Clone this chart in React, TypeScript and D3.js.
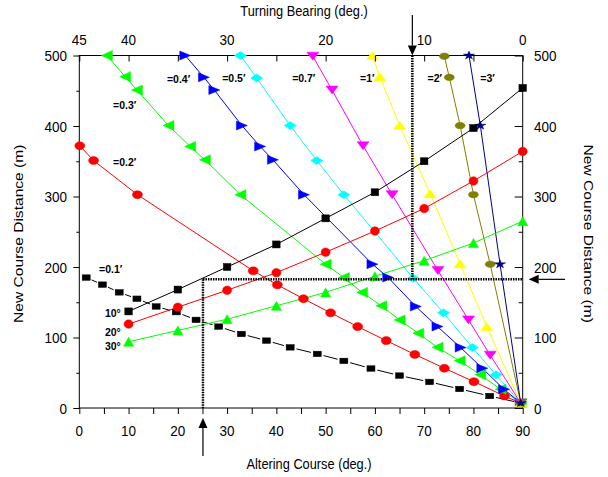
import React, { useEffect, useRef } from 'react';
import * as d3 from 'd3';

// Altering course (deg.) for the turning-bearing lines
const courseX = [10, 20, 30, 40, 50, 60, 70, 80, 90];
const bearing10 = [137, 168, 200, 232, 269, 306, 350, 397, 454];
const bearing20 = [119, 143, 167, 192, 221, 251, 283, 322, 364];
const bearing30 = [94, 110, 126, 145, 164, 187, 209, 234, 265];

// Constant-advance lines (x = altering course, y = new course distance)
const r01X = [1.4, 4.7, 8.1, 11.7, 15.6, 19.7, 23.7, 28.3, 32.9, 38, 42.8, 48.3, 53.7, 59.2, 65, 71.1, 77.2, 83.3, 89.6];
const r01Y = [185, 175, 164, 155, 144, 136, 125, 115.5, 105, 95.6, 86, 76.7, 66.8, 56, 46, 37, 27, 17, 7];
const r02X = [0.1, 2.9, 11.8, 35.3, 40.2, 45.5, 51, 56.5, 62.3, 68.1, 74.1, 80.1, 86.3, 89.6];
const r02Y = [372, 351, 302.6, 194.6, 174.7, 155, 135, 115.5, 95.6, 76, 56.4, 37.4, 17, 7];
const r03X = [5.6, 9.3, 11.7, 18.1, 22.5, 25.5, 32.7, 50, 53.7, 57.4, 61.3, 65, 68.8, 72.7, 77.2, 81.4, 85.5, 89.6];
const r03Y = [500, 470, 451, 400.6, 371, 352, 302.6, 204, 185, 164, 145, 125, 106, 86, 67, 47, 26.5, 7];
const r04X = [21.5, 25.3, 27.4, 33, 36.7, 39.3, 45.6, 59.5, 62.7, 68.3, 72.7, 77.4, 81.8, 86.2, 89.6];
const r04Y = [500, 469, 451, 400.6, 371, 352, 302.6, 204, 185, 144, 115.5, 85.7, 56.4, 26.5, 7];
const r05X = [32.7, 36, 42.8, 48.2, 53.7, 67.8, 73.9, 79.8, 84.6, 89.6];
const r05Y = [500, 468, 400.6, 351, 302.6, 184, 135, 85.7, 47, 7];
const r07X = [47.4, 51.3, 57.6, 63.5, 72.8, 79, 83.4, 89.6];
const r07Y = [499, 451, 372, 302.6, 195, 125, 75, 7];
const r1X = [59.5, 61, 65, 71.2, 77.3, 82.7, 89.6];
const r1Y = [500, 470, 401, 304, 204.5, 115.5, 7];
const r2X = [74.1, 75.1, 77.3, 80, 83.4, 89.6];
const r2Y = [499, 469, 400.6, 302.6, 204, 7];
const r3X = [79.1, 81.4, 85.4, 89.6];
const r3Y = [500, 400.6, 204, 7];

// Worked example read-off
const exampleCourse = 25.1;
const exampleBearing = 11.2;
const exampleDistance = 182.5;

const bottomTicks = [0, 10, 20, 30, 40, 50, 60, 70, 80, 90];
const topTicks = [45, 40, 30, 20, 10, 0];
const yTicks = [0, 100, 200, 300, 400, 500];

const FONT = 'Liberation Sans, Arial, sans-serif';
const SY = 1.15; // the original export is a little taller than wide

export default function App() {
  const svgRef = useRef(null);

  useEffect(() => {
    const width = 608;
    const height = 477;
    const svg = d3.select(svgRef.current).attr('width', width).attr('height', height);
    svg.selectAll('*').remove();

    const x = d3.scaleLinear().domain([0, 90]).range([79.3, 522.7]);
    const xTop = d3.scaleLinear().domain([45, 0]).range([79.3, 522.7]);
    const y = d3.scaleLinear().domain([0, 500]).range([408, 55.5]);

    const series = [
      { xs: r01X, ys: r01Y, color: '#000000', shape: 'square', w: 8, h: 5.5, gap: true, label: '=0.1′', at: [4.0, 196] },
      { xs: r02X, ys: r02Y, color: '#FF0000', shape: 'circle', w: 10, h: 8, label: '=0.2′', at: [6.85, 348] },
      { xs: r03X, ys: r03Y, color: '#00FF00', shape: 'triLeft', w: 11, h: 10, label: '=0.3′', at: [6.85, 429] },
      { xs: r04X, ys: r04Y, color: '#0000FF', shape: 'triRight', w: 11, h: 9, label: '=0.4′', at: [17.8, 466] },
      { xs: r05X, ys: r05Y, color: '#00FFFF', shape: 'diamond', w: 12, h: 8, label: '=0.5′', at: [29.0, 468] },
      { xs: r07X, ys: r07Y, color: '#FF00FF', shape: 'triDown', w: 12, h: 8, label: '=0.7′', at: [43.2, 468] },
      { xs: r1X, ys: r1Y, color: '#FFFF00', shape: 'triUp', w: 12, h: 8, label: '=1′', at: [57.0, 468] },
      { xs: r2X, ys: r2Y, color: '#808000', shape: 'circle', w: 10, h: 6.5, label: '=2′', at: [70.7, 468] },
      { xs: r3X, ys: r3Y, color: '#000080', shape: 'star', w: 9, h: 7, label: '=3′', at: [81.4, 468] },
      { xs: courseX, ys: bearing10, color: '#000000', shape: 'square', w: 7.5, h: 7, label: '10°', at: [5.2, 135] },
      { xs: courseX, ys: bearing20, color: '#FF0000', shape: 'circle', w: 9, h: 8.5, label: '20°', at: [5.2, 108] },
      { xs: courseX, ys: bearing30, color: '#00FF00', shape: 'triUp', w: 10, h: 9, label: '30°', at: [5.2, 88] },
    ];

    // Frame
    svg.append('rect').attr('x', x(0)).attr('y', y(500)).attr('width', x(90) - x(0)).attr('height', y(0) - y(500))
      .attr('fill', 'none').attr('stroke', '#000').attr('stroke-width', 1);

    // Lines
    const line = d3.line();
    series.forEach(s => {
      const pts = s.xs.map((v, i) => [x(v), y(s.ys[i])]);
      if (s.gap) {
        // segments stop short of the symbols
        for (let i = 0; i < pts.length - 1; i++) {
          const [x1, y1] = pts[i];
          const [x2, y2] = pts[i + 1];
          const len = Math.hypot(x2 - x1, y2 - y1);
          const cut = Math.min(6.5, len / 3);
          const ux = (x2 - x1) / len, uy = (y2 - y1) / len;
          svg.append('line').attr('x1', x1 + ux * cut).attr('y1', y1 + uy * cut)
            .attr('x2', x2 - ux * cut).attr('y2', y2 - uy * cut)
            .attr('stroke', s.color).attr('stroke-width', 1);
        }
      } else {
        svg.append('path').attr('d', line(pts)).attr('fill', 'none').attr('stroke', s.color).attr('stroke-width', 1);
      }
    });

    // Markers
    const drawMarker = (s, cx, cy) => {
      const hw = s.w / 2, hh = s.h / 2;
      let el;
      if (s.shape === 'square') {
        el = svg.append('rect').attr('x', cx - hw).attr('y', cy - hh).attr('width', s.w).attr('height', s.h);
      } else if (s.shape === 'circle') {
        el = svg.append('ellipse').attr('cx', cx).attr('cy', cy).attr('rx', hw).attr('ry', hh);
      } else if (s.shape === 'star') {
        el = svg.append('path').attr('d', d3.symbol(d3.symbolStar, 40)())
          .attr('transform', `translate(${cx},${cy}) scale(1,0.75)`);
      } else {
        let p;
        if (s.shape === 'triUp') p = [[0, -hh], [hw, hh], [-hw, hh]];
        if (s.shape === 'triDown') p = [[-hw, -hh], [hw, -hh], [0, hh]];
        if (s.shape === 'triLeft') p = [[-hw, 0], [hw, -hh], [hw, hh]];
        if (s.shape === 'triRight') p = [[hw, 0], [-hw, -hh], [-hw, hh]];
        if (s.shape === 'diamond') p = [[0, -hh], [hw, 0], [0, hh], [-hw, 0]];
        el = svg.append('polygon').attr('points', p.map(d => `${cx + d[0]},${cy + d[1]}`).join(' '));
      }
      el.attr('fill', s.color).attr('stroke', s.color).attr('stroke-width', 0.5);
    };
    series.forEach(s => s.xs.forEach((v, i) => drawMarker(s, x(v), y(s.ys[i]))));

    // Series labels
    series.forEach(s => {
      svg.append('text').attr('x', x(s.at[0])).attr('y', y(s.at[1])).attr('dy', '0.35em')
        .attr('font-family', FONT).attr('font-size', 10.5).attr('font-weight', 'bold').attr('fill', '#000')
        .text(s.label);
    });

    // Axes (ticks only, labels drawn below)
    const styleAxis = g => {
      g.select('.domain').remove();
      g.selectAll('line').attr('stroke', '#000');
    };
    const minorY = d3.range(0, 501, 50).filter(v => !yTicks.includes(v));

    svg.append('g').attr('transform', `translate(0,${y(0)})`)
      .call(d3.axisBottom(x).tickValues(d3.range(0, 91, 5)).tickSize(6).tickFormat(() => '')).call(styleAxis);
    svg.append('g').attr('transform', `translate(0,${y(500)})`)
      .call(d3.axisTop(xTop).tickValues(d3.range(45, -1, -5)).tickSizeInner(-6).tickSizeOuter(0).tickFormat(() => ''))
      .call(styleAxis);
    svg.append('g').attr('transform', `translate(${x(0)},0)`)
      .call(d3.axisLeft(y).tickValues(yTicks).tickSize(6).tickFormat(() => '')).call(styleAxis);
    svg.append('g').attr('transform', `translate(${x(0)},0)`)
      .call(d3.axisLeft(y).tickValues(minorY).tickSize(3).tickFormat(() => '')).call(styleAxis);
    svg.append('g').attr('transform', `translate(${x(90)},0)`)
      .call(d3.axisRight(y).tickValues(yTicks).tickSizeInner(-8).tickSizeOuter(0).tickFormat(() => '')).call(styleAxis);
    svg.append('g').attr('transform', `translate(${x(90)},0)`)
      .call(d3.axisRight(y).tickValues(minorY).tickSizeInner(-4).tickSizeOuter(0).tickFormat(() => '')).call(styleAxis);

    // stretched text helper
    const stext = (tx, ty, str, size, anchor, sy = SY) =>
      svg.append('text').attr('transform', `translate(${tx},${ty}) scale(1,${sy})`)
        .attr('text-anchor', anchor).attr('font-family', FONT).attr('font-size', size).attr('fill', '#000').text(str);

    const TS = 13.5;
    const capMid = 0.358 * TS * SY;
    bottomTicks.forEach(v => stext(x(v), 436, String(v), TS, 'middle'));
    topTicks.forEach(v => stext(xTop(v), 45, String(v), TS, 'middle'));
    yTicks.forEach(v => {
      stext(67, y(v) + capMid, String(v), TS, 'end');
      stext(534, y(v) + capMid, String(v), TS, 'start');
    });

    // Axis titles
    stext(304, 15.5, 'Turning Bearing (deg.)', 12.8, 'middle', 1.1);
    stext(309, 469, 'Altering Course (deg.)', 12.8, 'middle', 1.1);
    const cy = (y(0) + y(500)) / 2 + 2;
    svg.append('text').attr('transform', `translate(22.5,${cy}) rotate(-90) scale(1.2,1)`).attr('text-anchor', 'middle')
      .attr('font-family', FONT).attr('font-size', 13).text('New Course Distance (m)');
    svg.append('text').attr('transform', `translate(584,${cy}) rotate(90) scale(1.2,1)`).attr('text-anchor', 'middle')
      .attr('font-family', FONT).attr('font-size', 13).text('New Course Distance (m)');

    // Worked example: dotted guides
    const guide = (x1, y1, x2, y2) =>
      svg.append('line').attr('x1', x1).attr('y1', y1).attr('x2', x2).attr('y2', y2)
        .attr('stroke', '#000').attr('stroke-width', 2.5).attr('stroke-dasharray', '1.5 1');
    const ex = x(exampleCourse);
    const eb = xTop(exampleBearing);
    const ed = y(exampleDistance);
    guide(ex, ed, x(90), ed);
    guide(ex, ed, ex, y(0));
    guide(eb, y(500), eb, ed);

    // Arrows
    const arrow = (x1, y1, x2, y2) => {
      const len = Math.hypot(x2 - x1, y2 - y1);
      const ux = (x2 - x1) / len, uy = (y2 - y1) / len;
      const hl = 10, hw = 4.5;
      const bx = x2 - ux * hl, by = y2 - uy * hl;
      svg.append('line').attr('x1', x1).attr('y1', y1).attr('x2', bx).attr('y2', by)
        .attr('stroke', '#000').attr('stroke-width', 1.2);
      svg.append('polygon')
        .attr('points', `${x2},${y2} ${bx - uy * hw},${by + ux * hw} ${bx + uy * hw},${by - ux * hw}`)
        .attr('fill', '#000');
    };
    arrow(eb, 15, eb, y(500));
    arrow(565, ed, x(90) + 6, ed);
    arrow(ex, 456, ex, y(0) + 10);
  }, []);

  return (
    <div style={{ position: 'absolute', left: 0, top: 0, background: '#fff' }}>
      <svg ref={svgRef} style={{ display: 'block' }} />
    </div>
  );
}
